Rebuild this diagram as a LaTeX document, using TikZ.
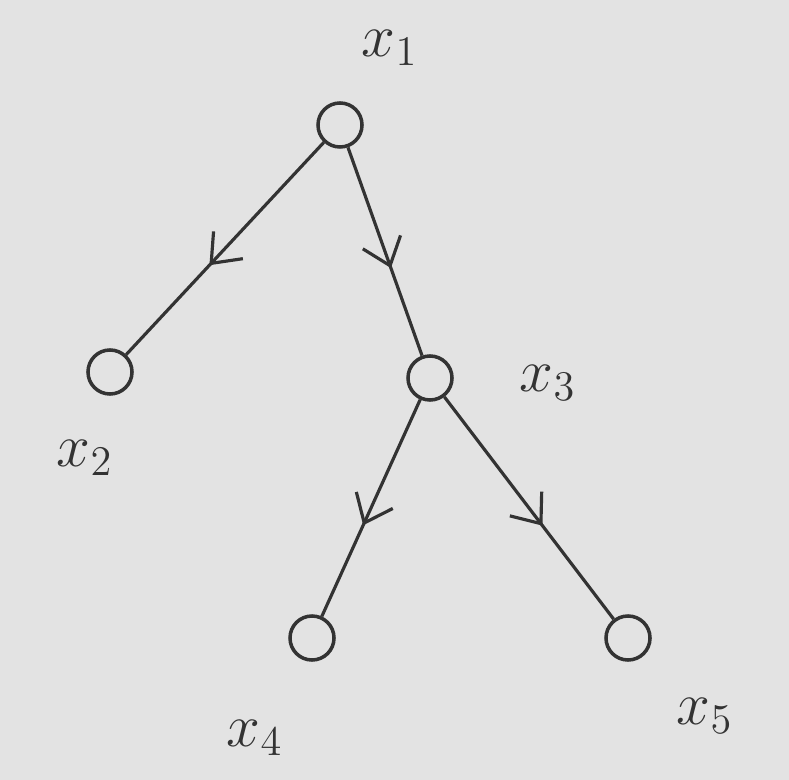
\documentclass[tikz,border=0pt]{standalone}
\usetikzlibrary{decorations.markings,arrows.meta}
\begin{document}
\begin{tikzpicture}[x=0.01cm,y=-0.01cm,
  vtx/.style={draw=black!80,line width=1pt,circle,minimum size=0.44cm,inner sep=0pt},
  lbl/.style={font=\LARGE,text=black!80},
  edge/.style={draw=black!80,line width=0.9pt,postaction={decorate},
    decoration={markings,mark=at position 0.58 with {\arrow{Straight Barb[length=2.5mm,width=4mm]}}}}]
\fill[black!11] (0,0) rectangle (789,780);
\useasboundingbox (0,0) rectangle (789,780);
\node[vtx] (x1) at (340,125) {};
\node[vtx] (x2) at (110,372) {};
\node[vtx] (x3) at (430,378) {};
\node[vtx] (x4) at (312,638) {};
\node[vtx] (x5) at (628,638) {};
\node[lbl] (l1) at (390,48) {$x_1$};
\node[lbl] (l2) at (85,458) {$x_2$};
\node[lbl] (l3) at (548,383) {$x_3$};
\node[lbl] (l4) at (255,738) {$x_4$};
\node[lbl] (l5) at (705,716) {$x_5$};
\draw[edge] (x1) -- (x2);
\draw[edge] (x1) -- (x3);
\draw[edge] (x3) -- (x4);
\draw[edge] (x3) -- (x5);
\end{tikzpicture}
\end{document}
